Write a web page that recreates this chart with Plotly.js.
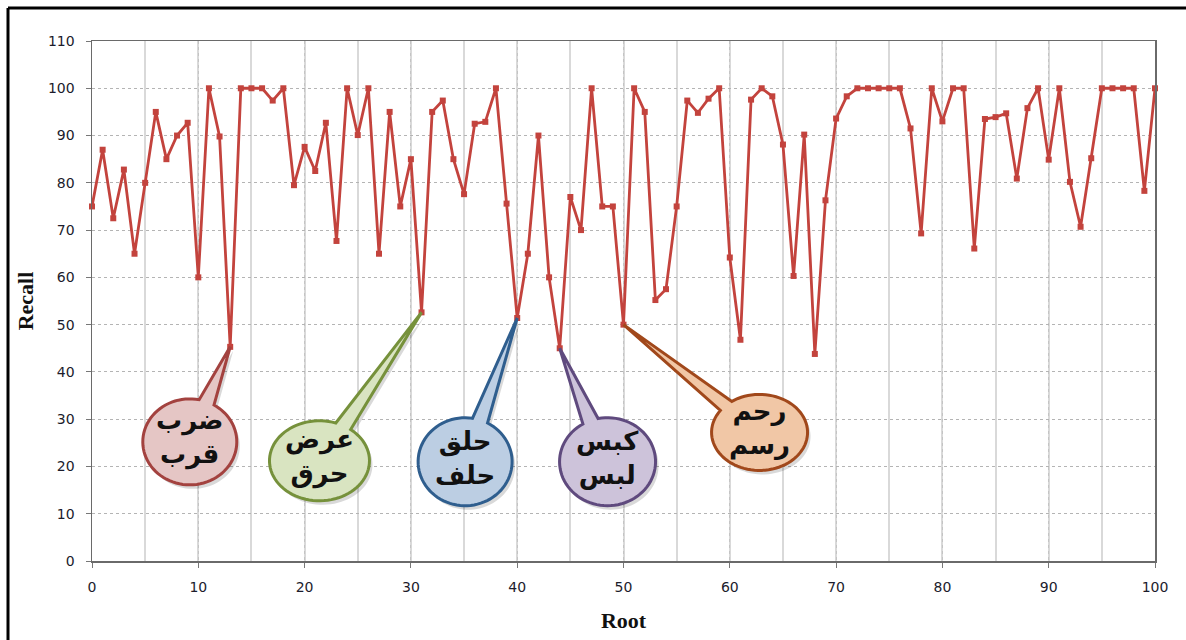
<!DOCTYPE html>
<html>
<head>
<meta charset="utf-8">
<script src="https://cdn.plot.ly/plotly-3.0.1.min.js"></script>
<style>
  html, body { margin: 0; padding: 0; background: #ffffff; }
  #chart { width: 1186px; height: 640px; }
</style>
</head>
<body>
<div id="chart"></div>
<script>
// ---------- data ----------
const roots = [0,1,2,3,4,5,6,7,8,9,10,11,12,13,14,15,16,17,18,19,20,21,22,23,24,25,26,27,28,29,30,
  31,32,33,34,35,36,37,38,39,40,41,42,43,44,45,46,47,48,49,50,51,52,53,54,55,56,57,58,59,60,
  61,62,63,64,65,66,67,68,69,70,71,72,73,74,75,76,77,78,79,80,81,82,83,84,85,86,87,88,89,90,
  91,92,93,94,95,96,97,98,99,100];
const recall = [
  75, 87, 72.5, 82.8, 65, 80, 95, 85, 90, 92.7,
  60, 100, 89.8, 45.3, 100, 100, 100, 97.4, 100, 79.5,
  87.6, 82.5, 92.7, 67.7, 100, 90.1, 100, 65, 95, 75,
  85, 52.6, 95, 97.4, 85, 77.6, 92.5, 92.9, 100, 75.6,
  51.4, 65, 90, 60, 45, 77, 70, 100, 75, 75,
  50, 100, 95, 55.2, 57.5, 75, 97.4, 94.8, 97.8, 100,
  64.2, 46.8, 97.6, 100, 98.3, 88.1, 60.3, 90.2, 43.8, 76.3,
  93.6, 98.3, 100, 100, 100, 100, 100, 91.5, 69.3, 100,
  93, 100, 100, 66.1, 93.5, 93.9, 94.7, 80.9, 95.8, 100,
  84.9, 100, 80.2, 70.7, 85.2, 100, 100, 100, 100, 78.3,
  100
];
const xTickVals = [0,10,20,30,40,50,60,70,80,90,100];
const yTickVals = [0,10,20,30,40,50,60,70,80,90,100,110];

// callouts: which root each bubble points to, and its two words
const calloutRoots = [13, 31, 40, 44, 50];
const calloutLine1 = ['ضرب', 'عرض', 'حلق', 'كبس', 'رحم'];
const calloutLine2 = ['قرب', 'حرق', 'حلف', 'لبس', 'رسم'];

// ---------- styles ----------
const bubbleStyle = [
  {cx: 9.2,  cy: 25.2, rx: 47, ry: 43, fill: '#e5c6c5', line: '#a3423f'},
  {cx: 21.4, cy: 21.2, rx: 50, ry: 40, fill: '#d9e4c1', line: '#76913b'},
  {cx: 35.1, cy: 21.0, rx: 47, ry: 44, fill: '#bccee3', line: '#2f5e8e'},
  {cx: 48.5, cy: 21.0, rx: 48, ry: 44, fill: '#cdc3da', line: '#5f4a7e'},
  {cx: 62.8, cy: 27.2, rx: 48, ry: 38, fill: '#f1c7a6', line: '#a1481b'}
];

const W = 1186, H = 640;
const M = {l: 92, r: 31, t: 41, b: 79};
const plotW = W - M.l - M.r, plotH = H - M.t - M.b;
const xr = [0, 100], yr = [0, 110];
const pxPerX = plotW / (xr[1] - xr[0]);
const pxPerY = plotH / (yr[1] - yr[0]);

function toPx(x, y) { return [x * pxPerX, -y * pxPerY]; }
function toData(px, py) { return [px / pxPerX, -py / pxPerY]; }

function bubblePath(st, tip, offPx, d) {
  const [cxp, cyp] = toPx(st.cx, st.cy);
  const [txp, typ] = toPx(tip[0], tip[1]);
  const phi = Math.atan2((typ - cyp) / st.ry, (txp - cxp) / st.rx);
  const n = 80;
  const pts = [];
  for (let i = 0; i <= n; i++) {
    const t = phi + d + (2 * Math.PI - 2 * d) * i / n;
    pts.push([cxp + st.rx * Math.cos(t) + offPx[0], cyp + st.ry * Math.sin(t) + offPx[1]]);
  }
  pts.push([txp + offPx[0], typ + offPx[1]]);
  let s = '';
  pts.forEach((p, i) => {
    const q = toData(p[0], p[1]);
    s += (i === 0 ? 'M' : 'L') + q[0].toFixed(4) + ',' + q[1].toFixed(4) + ' ';
  });
  return s + 'Z';
}

const shapes = [];
const annotations = [];

// outer frame (top and left edges)
shapes.push({type: 'line', xref: 'paper', yref: 'paper', x0: (8 - M.l) / plotW, x1: (1186 - M.l) / plotW,
  y0: (M.t + plotH - 8) / plotH, y1: (M.t + plotH - 8) / plotH, line: {color: '#000', width: 3}});
shapes.push({type: 'line', xref: 'paper', yref: 'paper', x0: (8 - M.l) / plotW, x1: (8 - M.l) / plotW,
  y0: (M.t + plotH - 8) / plotH, y1: (M.t + plotH - 645) / plotH, line: {color: '#000', width: 3}});

calloutRoots.forEach((r, i) => {
  const idx = roots.indexOf(r);
  const tip = [roots[idx], recall[idx]];
  const st = bubbleStyle[i];
  shapes.push({type: 'path', xref: 'x', yref: 'y', path: bubblePath(st, tip, [3, 4], 0.17),
    fillcolor: 'rgba(0,0,0,0.15)', line: {width: 0}});
  shapes.push({type: 'path', xref: 'x', yref: 'y', path: bubblePath(st, tip, [0, 0], 0.17),
    fillcolor: st.fill, line: {color: st.line, width: 3}});
  annotations.push({x: st.cx, y: st.cy, xref: 'x', yref: 'y', showarrow: false,
    text: calloutLine1[i] + '<br>' + calloutLine2[i],
    font: {family: 'DejaVu Sans', size: 26, color: '#111', weight: 'bold'},
    align: 'center', yshift: 4});
});

const trace = {
  x: roots, y: recall, type: 'scatter', mode: 'lines+markers',
  line: {color: '#c3433d', width: 2.8},
  marker: {symbol: 'square', size: 6, color: '#c3433d'},
  hoverinfo: 'skip', cliponaxis: false
};

const tickFont = {family: 'DejaVu Sans', size: 14, color: '#1c1c2c'};
const titleFont = {family: 'Liberation Serif', size: 22, color: '#111', weight: 'bold'};

const layout = {
  width: W, height: H,
  margin: M,
  paper_bgcolor: '#ffffff', plot_bgcolor: '#ffffff',
  showlegend: false,
  xaxis: {
    range: xr, tickvals: xTickVals, ticktext: xTickVals.map(String),
    showgrid: true, gridcolor: '#c4c4c4', griddash: 'dot', gridwidth: 1,
    minor: {dtick: 5, tick0: 0, showgrid: true, gridcolor: '#d9d9d9', gridwidth: 2, griddash: 'solid', ticks: ''},
    showline: true, linecolor: '#6a6a6a', linewidth: 1.5, mirror: true,
    ticks: 'outside', ticklen: 5, tickcolor: '#777', tickwidth: 1,
    tickfont: tickFont, ticklabelstandoff: 8,
    zeroline: false,
    title: {text: 'Root', font: titleFont, standoff: 18}
  },
  yaxis: {
    range: yr, tickvals: yTickVals, ticktext: yTickVals.map(String),
    showgrid: true, gridcolor: '#b4b4b4', griddash: 'dot', gridwidth: 1,
    showline: true, linecolor: '#6a6a6a', linewidth: 1.5, mirror: true,
    ticks: 'outside', ticklen: 5, tickcolor: '#777', tickwidth: 1,
    tickfont: tickFont, ticklabelstandoff: 8,
    zeroline: false,
    title: {text: 'Recall', font: titleFont, standoff: 8}
  },
  shapes: shapes,
  annotations: annotations
};

Plotly.newPlot('chart', [trace], layout, {displayModeBar: false, staticPlot: true});
</script>
</body>
</html>
